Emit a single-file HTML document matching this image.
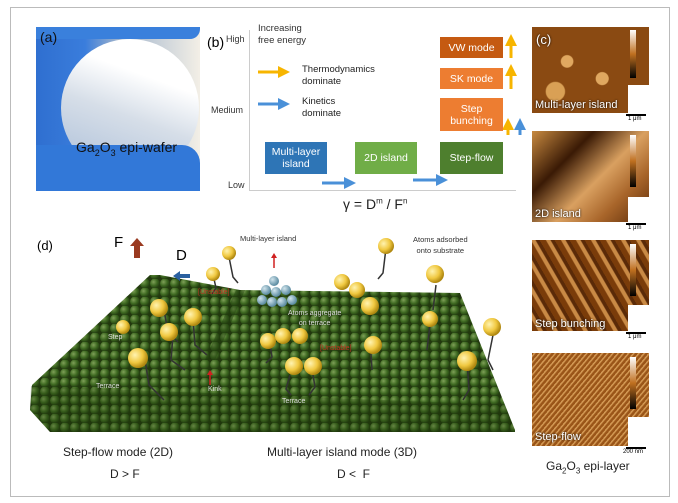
<!DOCTYPE html>
<html><head><meta charset="utf-8"><style>
body{margin:0;width:678px;height:503px;background:#fff;overflow:hidden;font-family:"Liberation Sans",sans-serif;position:relative}
.a{position:absolute}
.box{position:absolute;color:#fff;font-size:10.5px;display:flex;align-items:center;justify-content:center;text-align:center;line-height:12px}
.lbl{position:absolute;color:#fff;font-size:11px;text-shadow:0 0 2px #000}
</style></head><body>
<div class="a" style="left:10px;top:7px;width:658px;height:488px;border:1px solid #bbb"></div>

<!-- (a) -->
<div class="a" style="left:36px;top:27px;width:164px;height:164px;background:linear-gradient(90deg,#2f6fd0 0%,#3a7ddc 30%,#9fb3cc 50%,#f3efe6 100%);overflow:hidden">
 <div class="a" style="left:25px;top:12px;width:138px;height:138px;border-radius:50%;background:linear-gradient(200deg,#fff 30%,#d6dee8 55%,#a9bdd8 100%)"></div>
 <div class="a" style="left:0;top:118px;width:164px;height:46px;background:#3278d8;border-radius:0 18px 0 0"></div>
 <div class="a" style="left:0;top:0;width:164px;height:12px;background:#3a80dc;border-radius:0 0 10px 0"></div>
 <div class="a" style="left:4px;top:2px;font-size:14px;color:#111">(a)</div>
 <div class="a" style="left:40px;top:112px;font-size:14px;color:#111">Ga<sub style="font-size:9px">2</sub>O<sub style="font-size:9px">3</sub> epi-wafer</div>
</div>

<!-- (b) -->
<div class="a" style="left:207px;top:34px;font-size:14px">(b)</div>
<div class="a" style="left:226px;top:34px;font-size:9px;color:#333">High</div>
<div class="a" style="left:211px;top:105px;font-size:9px;color:#333">Medium</div>
<div class="a" style="left:228px;top:180px;font-size:9px;color:#333">Low</div>
<div class="a" style="left:258px;top:23px;font-size:9.5px;color:#333;line-height:12px">Increasing<br>free energy</div>
<div class="a" style="left:249px;top:30px;width:1px;height:161px;background:#ccc"></div>
<div class="a" style="left:249px;top:190px;width:267px;height:1px;background:#ccc"></div>
<div class="a" style="left:302px;top:64px;font-size:9.5px;color:#222;line-height:12px">Thermodynamics<br>dominate</div>
<div class="a" style="left:302px;top:96px;font-size:9.5px;color:#222;line-height:12px">Kinetics<br>dominate</div>
<svg class="a" style="left:0;top:0" width="678" height="503">
<defs>
<marker id="ay" markerWidth="4" markerHeight="4" refX="2" refY="2" orient="auto"><path d="M0,0L4,2L0,4z" fill="#f7b500"/></marker>
<marker id="ab" markerWidth="4" markerHeight="4" refX="2" refY="2" orient="auto"><path d="M0,0L4,2L0,4z" fill="#4a90d8"/></marker>
</defs>
<line x1="258" y1="72" x2="284" y2="72" stroke="#f7b500" stroke-width="3" marker-end="url(#ay)"/>
<line x1="258" y1="104" x2="284" y2="104" stroke="#4a90d8" stroke-width="3" marker-end="url(#ab)"/>
<line x1="322" y1="183" x2="350" y2="183" stroke="#4a90d8" stroke-width="3" marker-end="url(#ab)"/>
<line x1="413" y1="180" x2="442" y2="180" stroke="#4a90d8" stroke-width="3" marker-end="url(#ab)"/>
<line x1="511" y1="58" x2="511" y2="40" stroke="#f7b500" stroke-width="3" marker-end="url(#ay)"/>
<line x1="511" y1="89" x2="511" y2="70" stroke="#f7b500" stroke-width="3" marker-end="url(#ay)"/>
<line x1="508" y1="135" x2="508" y2="124" stroke="#f7b500" stroke-width="3" marker-end="url(#ay)"/>
<line x1="520" y1="135" x2="520" y2="124" stroke="#4a90d8" stroke-width="3" marker-end="url(#ab)"/>
</svg>
<div class="box" style="left:265px;top:142px;width:62px;height:32px;background:#2e75b6">Multi-layer<br>island</div>
<div class="box" style="left:355px;top:142px;width:62px;height:32px;background:#70ad47">2D island</div>
<div class="box" style="left:440px;top:142px;width:63px;height:32px;background:#4e7f2e">Step-flow</div>
<div class="box" style="left:440px;top:98px;width:63px;height:33px;background:#ed7d31">Step<br>bunching</div>
<div class="box" style="left:440px;top:68px;width:63px;height:21px;background:#ed7d31">SK mode</div>
<div class="box" style="left:440px;top:37px;width:63px;height:21px;background:#c55a11">VW mode</div>
<div class="a" style="left:343px;top:196px;font-size:14px;color:#222">γ = D<sup style="font-size:8px">m</sup> / F<sup style="font-size:8px">n</sup></div>

<!-- (c) -->
<div class="a" style="left:532px;top:27px;width:117px;height:86px;background:radial-gradient(circle at 30% 40%,#e0a860 0 6%,transparent 7%),radial-gradient(circle at 60% 60%,#e0a860 0 7%,transparent 8%),radial-gradient(circle at 20% 75%,#d9a055 0 8%,transparent 9%),#8a4a12"></div>
<div class="a" style="left:532px;top:131px;width:117px;height:91px;background:linear-gradient(135deg,#c88a40,#3a1a05 30%,#d9a060 55%,#a8652a 75%,#5a2a08)"></div>
<div class="a" style="left:532px;top:240px;width:117px;height:91px;background:repeating-linear-gradient(60deg,#7a3c0a 0 5px,#c98a45 6px 9px,#5a2a08 10px 13px)"></div>
<div class="a" style="left:532px;top:353px;width:117px;height:93px;background:repeating-linear-gradient(-50deg,#9a5518 0 2px,#d49a55 3px 4px)"></div>
<div class="a" style="left:628px;top:85px;width:21px;height:28px;background:#fff"></div>
<div class="a" style="left:628px;top:197px;width:21px;height:25px;background:#fff"></div>
<div class="a" style="left:628px;top:305px;width:21px;height:26px;background:#fff"></div>
<div class="a" style="left:628px;top:417px;width:21px;height:29px;background:#fff"></div>
<div class="a" style="left:630px;top:30px;width:6px;height:48px;background:linear-gradient(#fff,#c07020,#000)"></div>
<div class="a" style="left:630px;top:135px;width:6px;height:52px;background:linear-gradient(#fff,#c07020,#000)"></div>
<div class="a" style="left:630px;top:244px;width:6px;height:52px;background:linear-gradient(#fff,#c07020,#000)"></div>
<div class="a" style="left:630px;top:357px;width:6px;height:52px;background:linear-gradient(#fff,#c07020,#000)"></div>
<div class="lbl" style="left:536px;top:32px;font-size:13px">(c)</div>
<div class="lbl" style="left:535px;top:99px">Multi-layer island</div>
<div class="lbl" style="left:535px;top:208px">2D island</div>
<div class="lbl" style="left:535px;top:318px">Step bunching</div>
<div class="lbl" style="left:535px;top:431px">Step-flow</div>
<div class="a" style="left:626px;top:114px;width:20px;height:2px;background:#000"></div><div class="a" style="left:628px;top:116px;font-size:6px">1 μm</div>
<div class="a" style="left:626px;top:223px;width:20px;height:2px;background:#000"></div><div class="a" style="left:628px;top:225px;font-size:6px">1 μm</div>
<div class="a" style="left:626px;top:332px;width:20px;height:2px;background:#000"></div><div class="a" style="left:628px;top:334px;font-size:6px">1 μm</div>
<div class="a" style="left:626px;top:447px;width:20px;height:2px;background:#000"></div><div class="a" style="left:623px;top:449px;font-size:6px">200 nm</div>
<div class="a" style="left:546px;top:459px;font-size:12px;color:#222">Ga<sub style="font-size:8px">2</sub>O<sub style="font-size:8px">3</sub> epi-layer</div>

<!-- (d) -->
<svg class="a" style="left:0;top:0" width="678" height="503">
<defs>
<radialGradient id="gb" cx="35%" cy="35%" r="65%"><stop offset="0" stop-color="#7fa058"/><stop offset="0.55" stop-color="#3f6a22"/><stop offset="1" stop-color="#233d10"/></radialGradient>
<pattern id="pg" width="10" height="9" patternUnits="userSpaceOnUse"><rect width="10" height="9" fill="#22380e"/><circle cx="5" cy="4.5" r="5" fill="url(#gb)"/></pattern>
<radialGradient id="yb" cx="35%" cy="35%" r="65%"><stop offset="0" stop-color="#fff3b0"/><stop offset="0.6" stop-color="#f0c840"/><stop offset="1" stop-color="#b08810"/></radialGradient>
<radialGradient id="bb" cx="35%" cy="35%" r="65%"><stop offset="0" stop-color="#d0e4ec"/><stop offset="1" stop-color="#5a8aa0"/></radialGradient>
</defs>
<polygon points="32,385 150,275 160,275 240,290 460,293 515,430 515,432 50,432 30,410" fill="url(#pg)"/>
<polygon points="31,386 505,405 515,430 515,432 50,432 30,410" fill="#1d3309" opacity=".25"/>
<polygon points="236,290 245,290 215,360 205,360" fill="#1f3a0c" opacity=".4"/>
<g fill="url(#bb)"><circle cx="274" cy="281" r="5"/><circle cx="266" cy="290" r="5"/><circle cx="276" cy="292" r="5"/><circle cx="286" cy="290" r="5"/><circle cx="262" cy="300" r="5"/><circle cx="272" cy="302" r="5"/><circle cx="282" cy="302" r="5"/><circle cx="292" cy="300" r="5"/></g>
<g stroke="#333" stroke-width="1.5" fill="none">
<path d="M212,270 l4,18 l-4,6"/><path d="M229,257 l4,20 l5,6"/><path d="M386,248 l-3,25 l-5,6"/><path d="M164,310 l4,22 l10,10"/><path d="M193,320 l2,25 l12,10"/><path d="M173,335 l-2,25 l14,10"/><path d="M145,360 l4,25 l15,15"/><path d="M370,340 l2,30"/><path d="M467,360 l2,30 l-6,10"/><path d="M430,325 l-3,25"/><path d="M436,285 l-3,25"/><path d="M493,335 l-5,25 l5,10"/><path d="M270,345 l2,12 l-6,6"/><path d="M290,375 l-4,14 l5,6"/><path d="M313,375 l2,12 l-6,8"/>
</g>
<g fill="url(#yb)">
<circle cx="229" cy="253" r="7"/><circle cx="213" cy="274" r="7"/><circle cx="386" cy="246" r="8"/><circle cx="123" cy="327" r="7"/><circle cx="159" cy="308" r="9"/><circle cx="193" cy="317" r="9"/><circle cx="169" cy="332" r="9"/><circle cx="138" cy="358" r="10"/><circle cx="342" cy="282" r="8"/><circle cx="357" cy="290" r="8"/><circle cx="370" cy="306" r="9"/><circle cx="435" cy="274" r="9"/><circle cx="430" cy="319" r="8"/><circle cx="373" cy="345" r="9"/><circle cx="467" cy="361" r="10"/><circle cx="492" cy="327" r="9"/><circle cx="268" cy="341" r="8"/><circle cx="283" cy="336" r="8"/><circle cx="300" cy="336" r="8"/><circle cx="294" cy="366" r="9"/><circle cx="313" cy="366" r="9"/>
</g>
<path d="M134,258 l0,-12 l-4,0 l7,-8 l7,8 l-4,0 l0,12z" fill="#9a3a20"/>
<path d="M190,274 l-10,0 l0,-3 l-7,5 l7,5 l0,-3 l10,0z" fill="#2a60a0"/>
<path d="M274,268 l0,-12" stroke="#d02020" stroke-width="1.5"/><path d="M271,258 l3,-5 l3,5z" fill="#d02020"/>
<path d="M210,385 l0,-12" stroke="#d02020" stroke-width="1.5"/><path d="M207,375 l3,-5 l3,5z" fill="#d02020"/>
</svg>
<div class="a" style="left:37px;top:238px;font-size:13px">(d)</div>
<div class="a" style="left:114px;top:234px;font-size:15px">F</div>
<div class="a" style="left:176px;top:247px;font-size:15px">D</div>
<div class="a" style="left:240px;top:234px;font-size:7.5px;color:#333">Multi-layer island</div>
<div class="a" style="left:413px;top:234px;font-size:7.5px;color:#333;text-align:center;line-height:11px">Atoms adsorbed<br>onto substrate</div>
<div class="a" style="left:198px;top:289px;font-size:7px;color:#c03020">[Unstable]</div>
<div class="a" style="left:320px;top:345px;font-size:7px;color:#c03020">[Unstable]</div>
<div class="a" style="left:288px;top:309px;font-size:7px;color:#ddd;text-align:center;line-height:10px">Atoms aggregate<br>on terrace</div>
<div class="a" style="left:108px;top:334px;font-size:7px;color:#ddd">Step</div>
<div class="a" style="left:96px;top:383px;font-size:7px;color:#ddd">Terrace</div>
<div class="a" style="left:208px;top:386px;font-size:7px;color:#ddd">Kink</div>
<div class="a" style="left:282px;top:398px;font-size:7px;color:#ddd">Terrace</div>
<div class="a" style="left:63px;top:445px;font-size:12px;color:#222">Step-flow mode (2D)</div>
<div class="a" style="left:110px;top:467px;font-size:12px;color:#222">D &gt; F</div>
<div class="a" style="left:267px;top:445px;font-size:12px;color:#222">Multi-layer island mode (3D)</div>
<div class="a" style="left:337px;top:467px;font-size:12px;color:#222">D &lt;&nbsp; F</div>
</body></html>
